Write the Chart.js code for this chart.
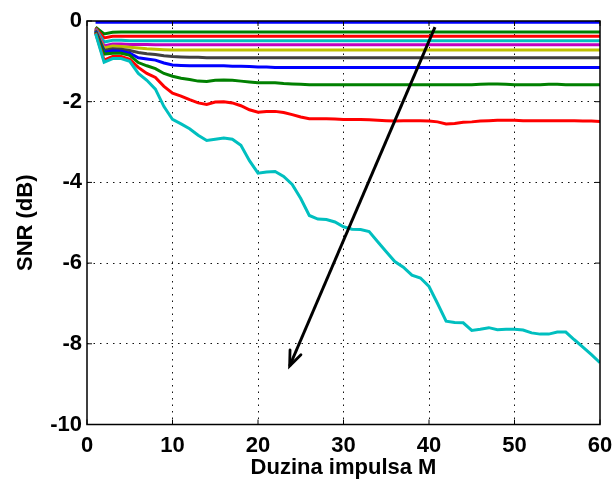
<!DOCTYPE html>
<html>
<head>
<meta charset="utf-8">
<script src="https://cdn.jsdelivr.net/npm/chart.js@4.4.1/dist/chart.umd.min.js"></script>
<style>
  html, body { margin: 0; padding: 0; background: #fff; }
  #wrap { width: 616px; height: 479px; }
</style>
</head>
<body>
<div id="wrap"><canvas id="mycanvas" width="616" height="479"></canvas></div>
<script>
var mValues = [1,2,3,4,5,6,7,8,9,10,11,12,13,14,15,16,17,18,19,20,
  21,22,23,24,25,26,27,28,29,30,31,32,33,34,35,36,37,38,39,40,
  41,42,43,44,45,46,47,48,49,50,51,52,53,54,55,56,57,58,59,60];

var xTicks = [0, 10, 20, 30, 40, 50, 60];
var yTicks = [0, -2, -4, -6, -8, -10];

var snr1 = [-0.03,-0.03,-0.03,-0.03,-0.03,-0.03,-0.03,-0.03,-0.03,-0.03,
  -0.03,-0.03,-0.03,-0.03,-0.03,-0.03,-0.03,-0.03,-0.03,-0.03,
  -0.03,-0.03,-0.03,-0.03,-0.03,-0.03,-0.03,-0.03,-0.03,-0.03,
  -0.03,-0.03,-0.03,-0.03,-0.03,-0.03,-0.03,-0.03,-0.03,-0.03,
  -0.03,-0.03,-0.03,-0.03,-0.03,-0.03,-0.03,-0.03,-0.03,-0.03,
  -0.03,-0.03,-0.03,-0.03,-0.03,-0.03,-0.03,-0.03,-0.03,-0.03];
var snr2 = [-0.15,-0.32,-0.28,-0.27,-0.27,-0.27,-0.27,-0.27,-0.27,-0.27,
  -0.27,-0.27,-0.27,-0.27,-0.27,-0.27,-0.27,-0.27,-0.27,-0.27,
  -0.27,-0.27,-0.27,-0.27,-0.27,-0.27,-0.27,-0.27,-0.27,-0.27,
  -0.27,-0.27,-0.27,-0.27,-0.27,-0.27,-0.27,-0.27,-0.27,-0.27,
  -0.27,-0.27,-0.27,-0.27,-0.27,-0.27,-0.27,-0.27,-0.27,-0.27,
  -0.27,-0.27,-0.27,-0.27,-0.27,-0.27,-0.27,-0.27,-0.27,-0.27];
var snr3 = [-0.17,-0.42,-0.38,-0.38,-0.38,-0.38,-0.38,-0.38,-0.38,-0.38,
  -0.38,-0.38,-0.38,-0.38,-0.38,-0.38,-0.38,-0.38,-0.38,-0.38,
  -0.38,-0.38,-0.38,-0.38,-0.38,-0.38,-0.38,-0.38,-0.38,-0.38,
  -0.38,-0.38,-0.38,-0.38,-0.38,-0.38,-0.38,-0.38,-0.38,-0.38,
  -0.38,-0.38,-0.38,-0.38,-0.38,-0.38,-0.38,-0.38,-0.38,-0.38,
  -0.38,-0.38,-0.38,-0.38,-0.38,-0.38,-0.38,-0.38,-0.38,-0.38];
var snr4 = [-0.19,-0.52,-0.48,-0.48,-0.49,-0.49,-0.49,-0.49,-0.49,-0.49,
  -0.49,-0.49,-0.49,-0.49,-0.49,-0.49,-0.49,-0.49,-0.49,-0.49,
  -0.49,-0.49,-0.49,-0.49,-0.49,-0.49,-0.49,-0.49,-0.49,-0.49,
  -0.49,-0.49,-0.49,-0.49,-0.49,-0.49,-0.49,-0.49,-0.49,-0.49,
  -0.49,-0.49,-0.49,-0.49,-0.49,-0.49,-0.49,-0.49,-0.49,-0.49,
  -0.49,-0.49,-0.49,-0.49,-0.49,-0.49,-0.49,-0.49,-0.49,-0.49];
var snr5 = [-0.20,-0.62,-0.57,-0.57,-0.58,-0.58,-0.58,-0.59,-0.59,-0.59,
  -0.59,-0.59,-0.59,-0.59,-0.59,-0.59,-0.59,-0.59,-0.59,-0.59,
  -0.59,-0.59,-0.59,-0.59,-0.59,-0.59,-0.59,-0.59,-0.59,-0.59,
  -0.59,-0.59,-0.59,-0.59,-0.59,-0.59,-0.59,-0.59,-0.59,-0.59,
  -0.59,-0.59,-0.59,-0.59,-0.59,-0.59,-0.59,-0.59,-0.59,-0.59,
  -0.59,-0.59,-0.59,-0.59,-0.59,-0.59,-0.59,-0.59,-0.59,-0.59];
var snr6 = [-0.22,-0.67,-0.62,-0.63,-0.65,-0.67,-0.69,-0.70,-0.71,-0.72,
  -0.72,-0.72,-0.72,-0.72,-0.72,-0.72,-0.72,-0.72,-0.72,-0.72,
  -0.72,-0.72,-0.72,-0.72,-0.72,-0.72,-0.72,-0.72,-0.72,-0.72,
  -0.72,-0.72,-0.72,-0.72,-0.72,-0.72,-0.72,-0.72,-0.72,-0.72,
  -0.72,-0.72,-0.72,-0.72,-0.72,-0.72,-0.72,-0.72,-0.72,-0.72,
  -0.72,-0.72,-0.72,-0.72,-0.72,-0.72,-0.72,-0.72,-0.72,-0.72];
var snr7 = [-0.23,-0.73,-0.69,-0.70,-0.73,-0.78,-0.81,-0.83,-0.86,-0.88,
  -0.89,-0.90,-0.90,-0.91,-0.91,-0.91,-0.91,-0.91,-0.91,-0.91,
  -0.91,-0.91,-0.91,-0.91,-0.91,-0.91,-0.91,-0.91,-0.91,-0.91,
  -0.91,-0.91,-0.91,-0.91,-0.91,-0.91,-0.91,-0.91,-0.91,-0.91,
  -0.91,-0.91,-0.91,-0.91,-0.91,-0.91,-0.91,-0.91,-0.91,-0.91,
  -0.91,-0.91,-0.91,-0.91,-0.91,-0.91,-0.91,-0.91,-0.91,-0.91];
var snr8 = [-0.25,-0.78,-0.74,-0.75,-0.80,-0.91,-0.94,-0.97,-1.04,-1.09,
  -1.10,-1.11,-1.11,-1.11,-1.11,-1.11,-1.12,-1.12,-1.13,-1.14,
  -1.14,-1.15,-1.15,-1.15,-1.15,-1.15,-1.15,-1.15,-1.15,-1.15,
  -1.15,-1.15,-1.15,-1.15,-1.15,-1.15,-1.15,-1.15,-1.15,-1.15,
  -1.15,-1.15,-1.15,-1.15,-1.15,-1.15,-1.15,-1.15,-1.15,-1.15,
  -1.15,-1.15,-1.15,-1.15,-1.15,-1.15,-1.15,-1.15,-1.15,-1.15];
var snr9 = [-0.27,-0.82,-0.80,-0.80,-0.85,-1.03,-1.11,-1.18,-1.30,-1.37,
  -1.42,-1.45,-1.49,-1.50,-1.47,-1.46,-1.47,-1.49,-1.51,-1.53,
  -1.53,-1.53,-1.55,-1.56,-1.57,-1.58,-1.58,-1.58,-1.58,-1.58,
  -1.58,-1.58,-1.58,-1.58,-1.58,-1.58,-1.58,-1.58,-1.58,-1.58,
  -1.58,-1.58,-1.58,-1.58,-1.58,-1.57,-1.56,-1.56,-1.57,-1.58,
  -1.58,-1.58,-1.58,-1.57,-1.57,-1.58,-1.58,-1.58,-1.58,-1.58];
var snr10 = [-0.29,-0.97,-0.88,-0.88,-0.95,-1.15,-1.30,-1.40,-1.62,-1.79,
  -1.86,-1.95,-2.03,-2.07,-2.01,-2.00,-2.03,-2.10,-2.20,-2.26,
  -2.24,-2.24,-2.27,-2.32,-2.38,-2.42,-2.42,-2.42,-2.43,-2.44,
  -2.44,-2.44,-2.45,-2.46,-2.47,-2.48,-2.47,-2.47,-2.47,-2.48,
  -2.50,-2.55,-2.54,-2.51,-2.50,-2.48,-2.47,-2.46,-2.46,-2.46,
  -2.47,-2.47,-2.47,-2.47,-2.47,-2.47,-2.47,-2.48,-2.48,-2.49];
var snr11 = [-0.31,-1.02,-0.93,-0.93,-1.00,-1.30,-1.47,-1.69,-2.12,-2.44,
  -2.55,-2.67,-2.83,-2.96,-2.93,-2.90,-2.93,-3.08,-3.46,-3.77,
  -3.74,-3.73,-3.85,-4.05,-4.40,-4.82,-4.91,-4.92,-4.98,-5.10,
  -5.16,-5.17,-5.22,-5.47,-5.72,-5.96,-6.10,-6.30,-6.37,-6.58,
  -7.00,-7.44,-7.47,-7.48,-7.67,-7.64,-7.60,-7.65,-7.64,-7.64,
  -7.66,-7.73,-7.76,-7.76,-7.71,-7.71,-7.90,-8.08,-8.27,-8.47];

var series = [snr1, snr2, snr3, snr4, snr5, snr6, snr7, snr8, snr9, snr10, snr11];
var colors = ['#0000ff', '#008000', '#ff0000', '#00bfbf', '#bf00bf', '#bfbf00',
  '#404040', '#0000ff', '#008000', '#ff0000', '#00bfbf'];

// arrow: start (top) and tip (bottom)
var arrowX = [40.7, 23.7];
var arrowY = [-0.15, -8.55];

var font = { family: "'Liberation Sans', Arial, Helvetica, sans-serif", size: 22, weight: 'bold' };

var datasets = series.map(function(s, i) {
  return {
    data: s.map(function(v, j) { return { x: mValues[j], y: v }; }),
    borderColor: colors[i],
    borderWidth: 3,
    pointRadius: 0,
    tension: 0,
    fill: false,
    order: 20 - i
  };
});

datasets.push({
  data: arrowX.map(function(v, j) { return { x: v, y: arrowY[j] }; }),
  borderColor: '#000',
  borderWidth: 3,
  pointRadius: 0,
  fill: false,
  order: 0
});

var framePlugin = {
  id: 'frame',
  afterDatasetsDraw: function(chart) {
    var ctx = chart.ctx, a = chart.chartArea;
    var xs = chart.scales.x, ys = chart.scales.y;
    ctx.save();

    // arrow head
    var meta = chart.getDatasetMeta(datasets.length - 1);
    var p0 = meta.data[0], p1 = meta.data[1];
    var ang = Math.atan2(p1.y - p0.y, p1.x - p0.x);
    var len = 16, spread = 0.38;
    ctx.strokeStyle = '#000';
    ctx.lineWidth = 2.8;
    ctx.lineCap = 'round';
    ctx.lineJoin = 'miter';
    ctx.beginPath();
    ctx.moveTo(p1.x - len * Math.cos(ang - spread), p1.y - len * Math.sin(ang - spread));
    ctx.lineTo(p1.x, p1.y);
    ctx.lineTo(p1.x - len * Math.cos(ang + spread), p1.y - len * Math.sin(ang + spread));
    ctx.stroke();

    // box
    ctx.lineCap = 'butt';
    ctx.lineWidth = 1.5;
    ctx.strokeRect(a.left, a.top, a.right - a.left, a.bottom - a.top);

    // inward ticks
    ctx.lineWidth = 1;
    ctx.beginPath();
    xTicks.forEach(function(t) {
      var px = xs.getPixelForValue(t);
      ctx.moveTo(px, a.bottom); ctx.lineTo(px, a.bottom - 5);
      ctx.moveTo(px, a.top); ctx.lineTo(px, a.top + 5);
    });
    yTicks.forEach(function(t) {
      var py = ys.getPixelForValue(t);
      ctx.moveTo(a.left, py); ctx.lineTo(a.left + 5, py);
      ctx.moveTo(a.right, py); ctx.lineTo(a.right - 5, py);
    });
    ctx.stroke();
    ctx.restore();
  }
};

function gridColor(c) {
  var v = c.tick.value;
  if (c.scale.axis === 'x' && (v === 0 || v === 60)) return 'rgba(0,0,0,0)';
  if (c.scale.axis === 'y' && (v === 0 || v === -10)) return 'rgba(0,0,0,0)';
  return '#111';
}

new Chart(document.getElementById('mycanvas'), {
  type: 'line',
  data: { datasets: datasets },
  plugins: [framePlugin],
  options: {
    responsive: false,
    animation: false,
    devicePixelRatio: 1,
    layout: { padding: { top: 21, right: 16, left: 0, bottom: 0 } },
    plugins: { legend: { display: false }, tooltip: { enabled: false } },
    scales: {
      x: {
        type: 'linear',
        min: 0, max: 60,
        afterFit: function(scale) {
          scale.height = 54.5;
          scale.paddingLeft = 0;
          scale.paddingRight = 0;
        },
        afterBuildTicks: function(scale) { scale.ticks = xTicks.map(function(v) { return { value: v }; }); },
        grid: { color: gridColor, lineWidth: 1, drawTicks: false },
        border: { display: false, dash: [1.5, 5] },
        ticks: { color: '#000', font: font, padding: 8, maxRotation: 0 },
        title: { display: true, text: 'Duzina impulsa M', color: '#000', font: font, padding: { top: 0, bottom: -2 } }
      },
      y: {
        type: 'linear',
        min: -10, max: 0,
        afterFit: function(scale) {
          scale.width = 87;
          scale.paddingTop = 0;
          scale.paddingBottom = 0;
        },
        afterBuildTicks: function(scale) { scale.ticks = yTicks.map(function(v) { return { value: v }; }); },
        grid: { color: gridColor, lineWidth: 1, drawTicks: false },
        border: { display: false, dash: [1.5, 5] },
        ticks: { color: '#000', font: font, padding: 5 },
        title: { display: true, text: 'SNR (dB)', color: '#000', font: font, padding: { top: 13, bottom: 0 } }
      }
    }
  }
});
</script>
</body>
</html>
